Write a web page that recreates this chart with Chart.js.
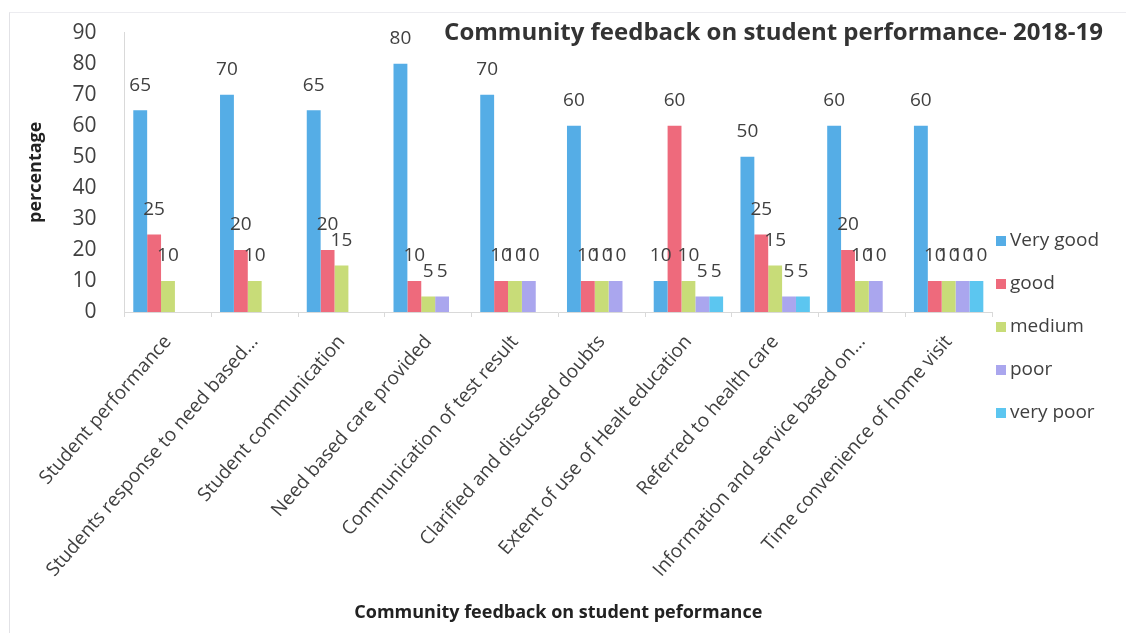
<!DOCTYPE html>
<html>
<head>
<meta charset="utf-8">
<title>Community feedback on student performance</title>
<script src="https://cdn.jsdelivr.net/npm/chart.js@4/dist/chart.umd.min.js"></script>
<style>
  html, body { margin: 0; padding: 0; background: #fff; }
  #wrap { position: relative; width: 1126px; height: 639px; }
  #wrap::before {
    content: ''; position: absolute; left: 9px; top: 12px; right: 0; bottom: 6px;
    border-left: 1px solid #e2e2e6; border-top: 1px solid #ececf0; pointer-events: none;
  }
</style>
</head>
<body>
<div id="wrap"><canvas id="chart" width="1126" height="639"></canvas></div>
<script>
const categories = [
  'Student performance',
  'Students response to need based...',
  'Student communication',
  'Need based care provided',
  'Communication of test result',
  'Clarified and discussed doubts',
  'Extent of use of Healt education',
  'Referred to health care',
  'Information and service based on...',
  'Time convenience of home visit'
];
const seriesNames = ['Very good', 'good', 'medium', 'poor', 'very poor'];
const veryGood = [65, 70, 65, 80, 70, 60, 10, 50, 60, 60];
const good     = [25, 20, 20, 10, 10, 10, 60, 25, 20, 10];
const medium   = [10, 10, 15, 5, 10, 10, 10, 15, 10, 10];
const poor     = [0, 0, 0, 5, 10, 10, 5, 5, 10, 10];
const veryPoor = [0, 0, 0, 0, 0, 0, 5, 5, 0, 10];
const yTicks = [0, 10, 20, 30, 40, 50, 60, 70, 80, 90];

const colors = ['#55ade6', '#ee6a7c', '#c8dc78', '#aaa6ee', '#5cc6f0'];
const FONT = '"Open Sans", Lato, sans-serif';
const TEXT = '#404040';

const chartTitle = 'Community feedback on student performance- 2018-19';

// value labels above each non-zero bar
const barLabels = {
  id: 'barLabels',
  afterDatasetsDraw(chart) {
    const ctx = chart.ctx;
    ctx.save();
    ctx.font = '19px ' + FONT;
    ctx.fillStyle = TEXT;
    ctx.textAlign = 'center';
    ctx.textBaseline = 'middle';
    chart.data.datasets.forEach((ds, i) => {
      chart.getDatasetMeta(i).data.forEach((bar, j) => {
        const v = ds.data[j];
        if (!v) return;
        ctx.fillText(String(v), bar.x, bar.y - 25);
      });
    });
    ctx.restore();
  }
};

// title sits inside the top right of the plot, legend hangs at the right
const overlay = {
  id: 'overlay',
  afterDraw(chart) {
    const ctx = chart.ctx;
    ctx.save();
    ctx.fillStyle = '#333';
    ctx.font = 'bold 24px ' + FONT;
    ctx.textAlign = 'right';
    ctx.textBaseline = 'middle';
    ctx.fillText(chartTitle, 1103, 33);

    ctx.font = '19px ' + FONT;
    ctx.textAlign = 'left';
    chart.data.datasets.forEach((ds, i) => {
      const y = 241 + i * 43;
      ctx.fillStyle = ds.backgroundColor;
      ctx.fillRect(996, y - 5, 10, 10);
      ctx.fillStyle = TEXT;
      ctx.fillText(ds.label, 1010, y);
    });
    ctx.restore();
  }
};

const seriesValues = [veryGood, good, medium, poor, veryPoor];

new Chart(document.getElementById('chart'), {
  type: 'bar',
  data: {
    labels: categories,
    datasets: seriesNames.map((name, i) => ({
      label: name,
      data: seriesValues[i],
      backgroundColor: colors[i],
      categoryPercentage: 0.8,
      barPercentage: 1.0
    }))
  },
  options: {
    responsive: false,
    animation: false,
    layout: { padding: { left: 19, right: 134, top: 27, bottom: 11 } },
    plugins: {
      legend: { display: false },
      tooltip: { enabled: false }
    },
    scales: {
      x: {
        // long slanted labels need more than the default half-height cap
        afterFit: (scale) => { scale.height = 316; },
        grid: { display: true, drawOnChartArea: false, color: '#d9d9d9', tickLength: 5, offset: true },
        border: { color: '#d9d9d9' },
        ticks: { color: TEXT, font: { family: FONT, size: 19 }, minRotation: 49, maxRotation: 49, autoSkip: false, padding: 14 },
        title: { display: true, text: 'Community feedback on student peformance', color: '#222', font: { family: FONT, size: 18, weight: 'bold' }, padding: { top: 24 } }
      },
      y: {
        min: 0, max: 90,
        afterBuildTicks: (axis) => { axis.ticks = yTicks.map(v => ({ value: v })); },
        grid: { display: false },
        border: { display: true, color: '#d9d9d9' },
        ticks: { color: TEXT, font: { family: FONT, size: 21 }, padding: 20 },
        title: { display: true, text: 'percentage', color: '#222', font: { family: FONT, size: 18, weight: 'bold' }, padding: 6 }
      }
    }
  },
  plugins: [barLabels, overlay]
});
</script>
</body>
</html>
